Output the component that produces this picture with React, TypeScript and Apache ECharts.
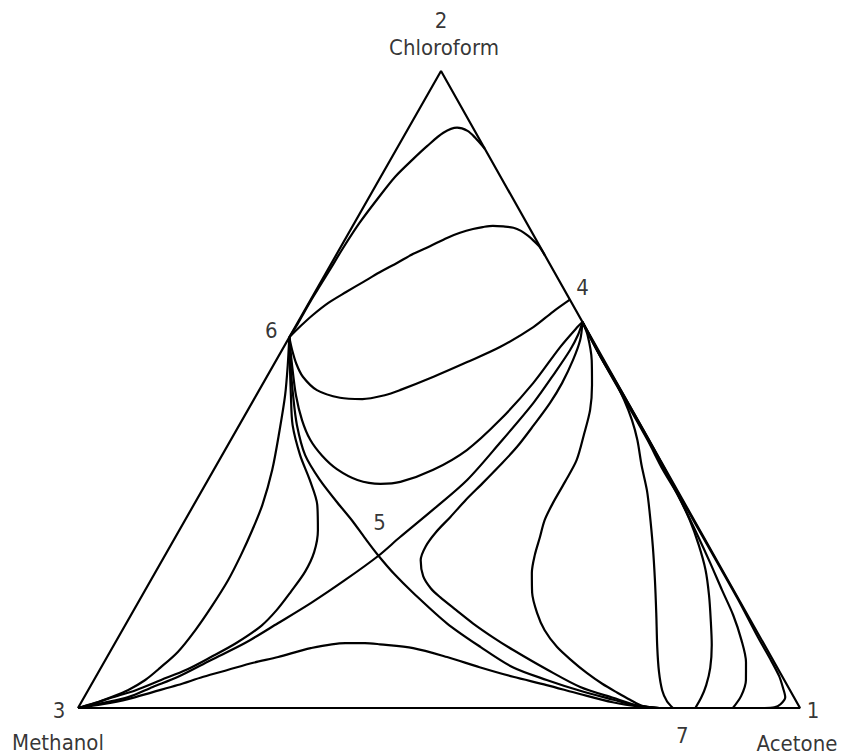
import React, { useEffect, useRef } from "react";
import * as echarts from "echarts";

// Ternary compositions: [x_acetone, x_chloroform]; methanol = 1 - both.
const nodeLabels = ["1", "2", "3", "4", "5", "6", "7"];
const nodeComps = [
  [1, 0],
  [0, 1],
  [0, 0],
  [0.394, 0.606],
  [0.296, 0.239],
  [0, 0.582],
  [0.805, 0],
];
const componentNames = ["Acetone", "Chloroform", "Methanol"];

const triangle = [[0, 0], [1, 0], [0, 1], [0, 0]];

const curveTop = [[0,0.582],[0.001,0.600],[0.001,0.619],[0.001,0.641],[0.002,0.664],[0.003,0.691],[0.004,0.721],[0.007,0.761],[0.013,0.799],[0.020,0.834],[0.031,0.862],[0.040,0.882],[0.052,0.903],[0.067,0.911],[0.084,0.906],[0.099,0.896],[0.122,0.878]];
const curveMiddle = [[0,0.582],[0.007,0.600],[0.015,0.617],[0.027,0.636],[0.043,0.653],[0.059,0.669],[0.074,0.684],[0.091,0.699],[0.106,0.713],[0.123,0.725],[0.140,0.738],[0.154,0.746],[0.169,0.752],[0.181,0.755],[0.194,0.757],[0.209,0.756],[0.224,0.754],[0.237,0.749],[0.251,0.741],[0.263,0.733],[0.274,0.725],[0.289,0.711]];
const curveBowl1 = [[0,0.582],[0.014,0.562],[0.031,0.540],[0.050,0.520],[0.080,0.499],[0.118,0.487],[0.150,0.485],[0.178,0.491],[0.195,0.499],[0.231,0.520],[0.266,0.543],[0.300,0.567],[0.330,0.598],[0.345,0.622],[0.359,0.641]];
const curveBowl2 = [[0,0.582],[0.026,0.538],[0.055,0.491],[0.083,0.452],[0.110,0.421],[0.139,0.396],[0.170,0.375],[0.207,0.358],[0.242,0.352],[0.268,0.355],[0.304,0.374],[0.335,0.405],[0.357,0.452],[0.374,0.510],[0.383,0.567],[0.391,0.598],[0.394,0.606]];
const separatrix657 = [[0,0.582],[0.024,0.538],[0.051,0.491],[0.080,0.444],[0.115,0.397],[0.155,0.358],[0.194,0.325],[0.232,0.294],[0.263,0.267],[0.296,0.239],[0.334,0.209],[0.373,0.181],[0.444,0.133],[0.509,0.096],[0.570,0.064],[0.627,0.044],[0.682,0.027],[0.735,0.013],[0.766,0.005],[0.787,0.002],[0.805,0]];
const separatrix354 = [[0,0],[0.031,0.008],[0.061,0.017],[0.087,0.033],[0.114,0.049],[0.146,0.075],[0.180,0.102],[0.210,0.133],[0.240,0.165],[0.269,0.201],[0.296,0.239],[0.311,0.268],[0.335,0.311],[0.359,0.358],[0.375,0.416],[0.390,0.479],[0.396,0.527],[0.399,0.562],[0.398,0.586],[0.394,0.606]];
const curveLeftOuter = [[0,0.582],[0.020,0.538],[0.040,0.491],[0.060,0.436],[0.081,0.374],[0.095,0.319],[0.101,0.279],[0.105,0.240],[0.107,0.201],[0.105,0.160],[0.101,0.122],[0.094,0.088],[0.082,0.063],[0.071,0.044],[0.055,0.028],[0.037,0.017],[0.020,0.008],[0,0]];
const curveLeftInner = [[0,0.582],[0.023,0.538],[0.048,0.491],[0.074,0.444],[0.108,0.397],[0.141,0.358],[0.171,0.319],[0.192,0.279],[0.204,0.245],[0.207,0.214],[0.203,0.182],[0.198,0.154],[0.189,0.129],[0.168,0.102],[0.144,0.080],[0.120,0.060],[0.093,0.044],[0.066,0.028],[0.038,0.016],[0.014,0.005],[0,0]];
const curveBottom = [[0,0],[0.031,0.006],[0.062,0.014],[0.091,0.025],[0.120,0.036],[0.149,0.049],[0.178,0.060],[0.207,0.071],[0.237,0.080],[0.275,0.094],[0.319,0.102],[0.346,0.102],[0.368,0.100],[0.417,0.094],[0.471,0.080],[0.524,0.064],[0.578,0.049],[0.631,0.036],[0.684,0.022],[0.736,0.009],[0.778,0.002],[0.805,0]];
const curveA = [[0.394,0.606],[0.405,0.578],[0.411,0.546],[0.414,0.510],[0.413,0.479],[0.408,0.444],[0.402,0.410],[0.393,0.381],[0.383,0.353],[0.373,0.327],[0.365,0.300],[0.357,0.276],[0.354,0.254],[0.358,0.232],[0.374,0.207],[0.394,0.188],[0.414,0.174],[0.446,0.154],[0.480,0.133],[0.519,0.111],[0.557,0.091],[0.620,0.060],[0.679,0.033],[0.733,0.016],[0.777,0.003],[0.805,0]];
const curveB = [[0.394,0.606],[0.411,0.586],[0.437,0.546],[0.457,0.507],[0.474,0.468],[0.485,0.429],[0.495,0.389],[0.496,0.355],[0.496,0.322],[0.498,0.295],[0.505,0.268],[0.512,0.240],[0.522,0.212],[0.538,0.181],[0.561,0.149],[0.585,0.122],[0.615,0.096],[0.647,0.074],[0.677,0.055],[0.707,0.038],[0.735,0.024],[0.758,0.013],[0.781,0.003],[0.805,0]];
const curveC = [[0.394,0.606],[0.421,0.578],[0.452,0.546],[0.484,0.515],[0.513,0.484],[0.540,0.452],[0.563,0.421],[0.589,0.381],[0.616,0.342],[0.638,0.306],[0.669,0.253],[0.698,0.201],[0.726,0.149],[0.754,0.096],[0.776,0.057],[0.795,0.028],[0.810,0.011],[0.824,0]];
const curveD = [[0.394,0.606],[0.439,0.559],[0.514,0.484],[0.577,0.421],[0.622,0.374],[0.663,0.334],[0.699,0.295],[0.731,0.256],[0.760,0.217],[0.785,0.177],[0.807,0.138],[0.828,0.099],[0.844,0.063],[0.852,0.036],[0.855,0.016],[0.855,0]];
const curveE = [[0.394,0.606],[0.441,0.557],[0.515,0.484],[0.578,0.421],[0.632,0.366],[0.682,0.314],[0.721,0.272],[0.760,0.229],[0.799,0.185],[0.834,0.146],[0.865,0.107],[0.889,0.072],[0.903,0.044],[0.909,0.019],[0.907,0]];
const curveF = [[0.394,0.606],[0.442,0.557],[0.516,0.484],[0.579,0.421],[0.641,0.358],[0.704,0.295],[0.767,0.232],[0.829,0.170],[0.886,0.111],[0.922,0.075],[0.946,0.050],[0.961,0.031],[0.971,0.017],[0.970,0.006],[0.964,0.001],[0.951,0]];

const curves = [
  curveTop, curveMiddle, curveBowl1, curveBowl2, separatrix657, separatrix354,
  curveLeftOuter, curveLeftInner, curveBottom, curveA, curveB, curveC, curveD, curveE, curveF,
];

// layout
const SKEW = 0.5028; // horizontal position of the apex along the base
const toXY = (p: number[]) => [p[0] + p[1] * SKEW, p[1]];
const numberOffsets = [[13, 2], [0, -51], [-19, 2], [0, -34], [1, -33], [-18, -7], [23, 27]];
const nameOffsets = [[-3, 35], [3, -24], [-20, 34]];
const FONT = "'DejaVu Sans Condensed', 'DejaVu Sans', sans-serif";

export default function App() {
  const ref = useRef<HTMLDivElement>(null);
  useEffect(() => {
    const chart = echarts.init(ref.current!, undefined, { renderer: "svg" });
    const lineStyle = { color: "#000", width: 2.2 };
    const lineSeries: any[] = [triangle, ...curves].map((pts, i) => ({
      type: "line",
      data: pts.map(toXY),
      smooth: i === 0 ? false : 0.3,
      symbol: "none",
      showSymbol: false,
      clip: false,
      silent: true,
      lineStyle,
    }));
    const labelData: any[] = [];
    nodeComps.forEach((c, i) => {
      labelData.push({
        value: toXY(c),
        label: { formatter: nodeLabels[i], offset: numberOffsets[i] },
      });
    });
    componentNames.forEach((n, i) => {
      labelData.push({
        value: toXY(nodeComps[i]),
        label: { formatter: n, offset: nameOffsets[i] },
      });
    });
    chart.setOption({
      animation: false,
      backgroundColor: "#fff",
      grid: { left: 78, right: 41, top: 71, bottom: 47 },
      xAxis: { type: "value", min: 0, max: 1, show: false },
      yAxis: { type: "value", min: 0, max: 1, show: false },
      series: [
        ...lineSeries,
        {
          type: "scatter",
          data: labelData,
          symbolSize: 1,
          itemStyle: { color: "rgba(0,0,0,0)" },
          silent: true,
          clip: false,
          label: {
            show: true,
            position: "inside",
            color: "#000",
            fontSize: 22,
            fontFamily: FONT,
            align: "center",
            verticalAlign: "middle",
          },
        },
      ],
    });
    return () => chart.dispose();
  }, []);
  return (
    <div
      ref={ref}
      style={{ position: "fixed", left: 0, top: 0, width: 841, height: 755, background: "#fff" }}
    />
  );
}
